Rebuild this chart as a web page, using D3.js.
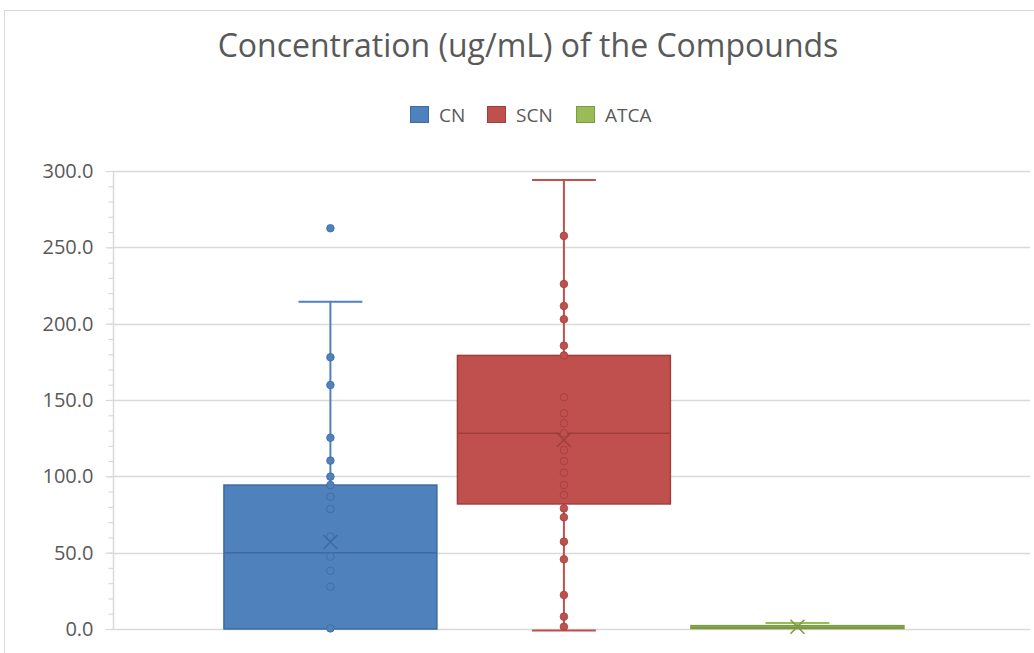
<!DOCTYPE html>
<html>
<head>
<meta charset="utf-8">
<script src="https://cdn.jsdelivr.net/npm/d3@7"></script>
<style>
  html, body { margin: 0; padding: 0; background: #fff; }
  svg { display: block; }
</style>
</head>
<body>
<svg id="chart" width="1034" height="653"></svg>
<script>
// Data
const categories = ['CN', 'SCN', 'ATCA'];
const colors = ['#4F81BD', '#C0504D', '#9BBB59'];
const darkColors = ['#3E6AA0', '#9E3F3C', '#7A9A44'];

// box statistics per category
const whiskerLow = [0, -1.0, 0.3];
const q1 = [0, 81.9, 0.3];
const median = [50.0, 128.2, 1.0];
const q3 = [94.3, 179.2, 2.2];
const whiskerHigh = [214.4, 294.1, 3.9];
const means = [57.0, 123.8, 1.5];

// inner points and outliers per category
const cnPoints = [0.4, 27.7, 38.2, 47.4, 60.5, 78.6, 86.7, 94.3, 99.8, 110.3, 125.3, 159.8, 178.0];
const scnPoints = [1.5, 8.1, 22.3, 45.7, 57.2, 73.2, 79.0, 87.8, 94.3, 102.4, 110.0, 117.2, 128.2,
  134.7, 141.3, 151.8, 179.2, 185.6, 202.9, 211.6, 226.0, 257.5];
const atcaPoints = [];
const cnOutliers = [262.5];
const scnOutliers = [];
const atcaOutliers = [];

const yTicks = [0, 50, 100, 150, 200, 250, 300];
const title = 'Concentration (ug/mL) of the Compounds';

const allPoints = [cnPoints, scnPoints, atcaPoints];
const allOutliers = [cnOutliers, scnOutliers, atcaOutliers];

const FONT = '"Open Sans", "Liberation Sans", sans-serif';
const TEXT_COLOR = '#595959';
const GRID_COLOR = '#D9D9D9';

const plot = { left: 113, right: 1030, top: 171, bottom: 629 };

const svg = d3.select('#chart');

// chart area border (cut off at the right and bottom in the reference)
svg.append('rect')
  .attr('x', 4.5).attr('y', 10.5)
  .attr('width', 1100).attr('height', 700)
  .attr('fill', '#fff')
  .attr('stroke', GRID_COLOR)
  .attr('stroke-width', 1);

const y = d3.scaleLinear().domain([0, 300]).range([plot.bottom, plot.top]);
const x = d3.scaleBand()
  .domain(categories)
  .range([plot.left, plot.right])
  .paddingInner(0.088)
  .paddingOuter(0.5075)
  .align(0.468);

// title
svg.append('text')
  .attr('x', 528).attr('y', 57)
  .attr('text-anchor', 'middle')
  .attr('font-family', FONT)
  .attr('font-size', 32)
  .attr('fill', TEXT_COLOR)
  .text(title);

// legend
const legendItems = [
  { name: 'CN', x: 410 },
  { name: 'SCN', x: 487 },
  { name: 'ATCA', x: 576 }
];
const legend = svg.append('g').attr('class', 'legend');
legendItems.forEach((d, i) => {
  legend.append('rect')
    .attr('x', d.x + 0.5).attr('y', 106.5)
    .attr('width', 18).attr('height', 16)
    .attr('fill', colors[i])
    .attr('stroke', darkColors[i]);
  legend.append('text')
    .attr('x', d.x + 29).attr('y', 122)
    .attr('font-family', FONT)
    .attr('font-size', 19)
    .attr('fill', TEXT_COLOR)
    .text(d.name);
});

// gridlines
svg.append('g').attr('class', 'grid')
  .selectAll('line')
  .data(yTicks)
  .join('line')
  .attr('x1', plot.left).attr('x2', plot.right)
  .attr('y1', d => Math.round(y(d)) + 0.5)
  .attr('y2', d => Math.round(y(d)) + 0.5)
  .attr('stroke', GRID_COLOR)
  .attr('stroke-width', 1.5);

// y axis with major and minor ticks
const yAxisG = svg.append('g')
  .attr('class', 'axis axis-y')
  .attr('transform', `translate(${plot.left + 0.5},0)`);
yAxisG.call(d3.axisLeft(y).tickValues(d3.range(0, 301, 10)).tickSize(5).tickFormat(''));
yAxisG.call(g => g.select('.domain').remove());
yAxisG.selectAll('.tick line').attr('stroke', GRID_COLOR).attr('stroke-width', 1.2);
yAxisG.append('line')
  .attr('x1', 0).attr('x2', 0)
  .attr('y1', plot.top).attr('y2', plot.bottom)
  .attr('stroke', GRID_COLOR).attr('stroke-width', 1.5);

const yMajor = svg.append('g')
  .attr('class', 'axis axis-y-major')
  .attr('transform', `translate(${plot.left + 0.5},0)`)
  .call(d3.axisLeft(y).tickValues(yTicks).tickSize(8).tickPadding(12).tickFormat(d3.format('.1f')));
yMajor.select('.domain').remove();
yMajor.selectAll('.tick line').attr('stroke', GRID_COLOR).attr('stroke-width', 1.2);
yMajor.selectAll('.tick text')
  .attr('font-family', FONT)
  .attr('font-size', 20)
  .attr('fill', TEXT_COLOR);

// boxes
const boxes = svg.append('g').attr('class', 'boxes');
categories.forEach((cat, i) => {
  const g = boxes.append('g').attr('class', 'box box-' + cat);
  const x0 = x(cat);
  const bw = x.bandwidth();
  const cx = x0 + bw / 2;
  const capHalf = bw * 0.15;

  // whiskers
  g.append('line')
    .attr('x1', cx).attr('x2', cx)
    .attr('y1', y(q3[i])).attr('y2', y(whiskerHigh[i]))
    .attr('stroke', colors[i]).attr('stroke-width', 2);
  g.append('line')
    .attr('x1', cx - capHalf).attr('x2', cx + capHalf)
    .attr('y1', y(whiskerHigh[i])).attr('y2', y(whiskerHigh[i]))
    .attr('stroke', colors[i]).attr('stroke-width', 2);
  if (whiskerLow[i] < q1[i]) {
    g.append('line')
      .attr('x1', cx).attr('x2', cx)
      .attr('y1', y(q1[i])).attr('y2', y(whiskerLow[i]))
      .attr('stroke', colors[i]).attr('stroke-width', 2);
    g.append('line')
      .attr('x1', cx - capHalf).attr('x2', cx + capHalf)
      .attr('y1', y(whiskerLow[i])).attr('y2', y(whiskerLow[i]))
      .attr('stroke', colors[i]).attr('stroke-width', 2);
  }

  // box
  const boxH = Math.max(y(q1[i]) - y(q3[i]), 2);
  g.append('rect')
    .attr('x', x0).attr('y', y(q3[i]))
    .attr('width', bw).attr('height', boxH)
    .attr('fill', colors[i])
    .attr('stroke', darkColors[i])
    .attr('stroke-width', 1.5);

  // median
  g.append('line')
    .attr('x1', x0).attr('x2', x0 + bw)
    .attr('y1', y(median[i])).attr('y2', y(median[i]))
    .attr('stroke', darkColors[i]).attr('stroke-width', 1.5);

  // points (inner + outliers)
  g.selectAll('circle')
    .data(allPoints[i].concat(allOutliers[i]))
    .join('circle')
    .attr('cx', cx)
    .attr('cy', d => y(d))
    .attr('r', 3.8)
    .attr('fill', colors[i])
    .attr('stroke', darkColors[i])
    .attr('stroke-opacity', 0.8)
    .attr('stroke-width', 1);

  // mean marker
  const my = y(means[i]);
  g.append('path')
    .attr('d', `M${cx - 7},${my - 7}L${cx + 7},${my + 7}M${cx - 7},${my + 7}L${cx + 7},${my - 7}`)
    .attr('stroke', darkColors[i])
    .attr('stroke-width', 1.5)
    .attr('fill', 'none');
});
</script>
</body>
</html>
